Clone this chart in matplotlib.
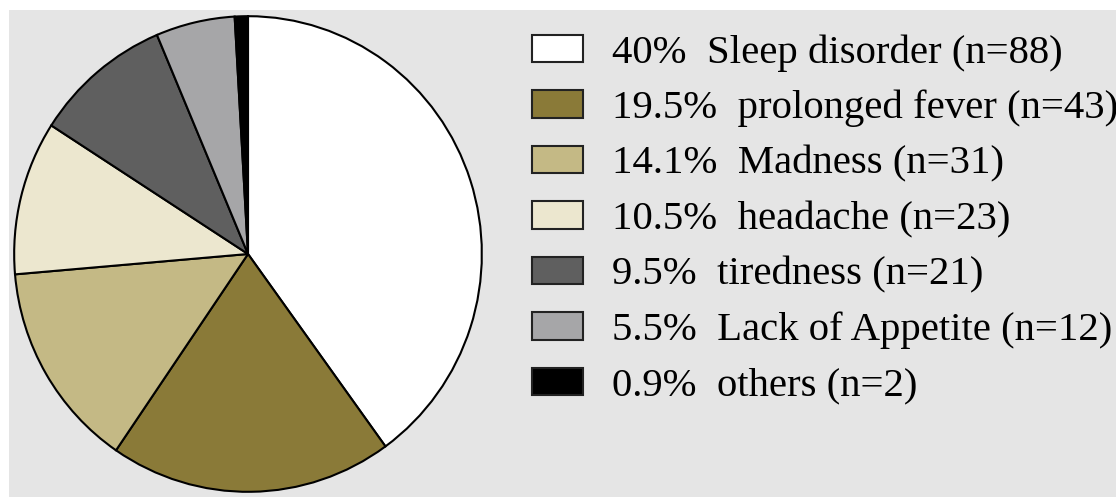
import matplotlib.pyplot as plt
from matplotlib.patches import Rectangle

# data
labels = ["Sleep disorder", "prolonged fever", "Madness", "headache",
          "tiredness", "Lack of Appetite", "others"]
counts = [88, 43, 31, 23, 21, 12, 2]
pcts = ["40%", "19.5%", "14.1%", "10.5%", "9.5%", "5.5%", "0.9%"]
colors = ["#ffffff", "#8a7a38", "#c4b985", "#ece7cf",
          "#5f5f5f", "#a6a6a8", "#000000"]

W, H = 1116, 497
fig = plt.figure(figsize=(W / 100, H / 100), dpi=100, facecolor="white")

# grey panel (white strip on the top and left edges)
fig.patches.append(Rectangle((9 / W, 0), 1, (H - 10) / H, transform=fig.transFigure,
                             facecolor="#e5e5e5", edgecolor="none", zorder=-5))

# pie axes in pixel coords: left 13, right 483, top 15, bottom 493
x0, x1, ytop, ybot = 13, 483, 15, 493
ax = fig.add_axes([x0 / W, (H - ybot) / H, (x1 - x0) / W, (ybot - ytop) / H])
ax.set_zorder(2)
ax.patch.set_visible(False)
wedges, _ = ax.pie(counts, colors=colors, startangle=90, counterclock=False,
                   radius=1, wedgeprops=dict(edgecolor="black", linewidth=1.5))
ax.set_aspect("auto")
ax.set_xlim(-1.005, 1.005)
ax.set_ylim(-1.005, 1.005)
ax.axis("off")

legend_labels = [f"{p}  {l} (n={n})" for p, l, n in zip(pcts, labels, counts)]
leg = fig.legend(wedges, legend_labels, loc="upper left",
                 bbox_to_anchor=(532 / W, 1 - 34 / H),
                 frameon=False, borderpad=0, borderaxespad=0,
                 prop={"family": "Liberation Serif", "size": 29.3},
                 handlelength=1.25, handleheight=0.66, handletextpad=0.71,
                 labelspacing=0.45)
leg.set_zorder(3)
for h in leg.legend_handles:
    h.set_edgecolor("#222222")
    h.set_linewidth(1.5)

fig.savefig("out.png", dpi=100, facecolor=fig.get_facecolor())
